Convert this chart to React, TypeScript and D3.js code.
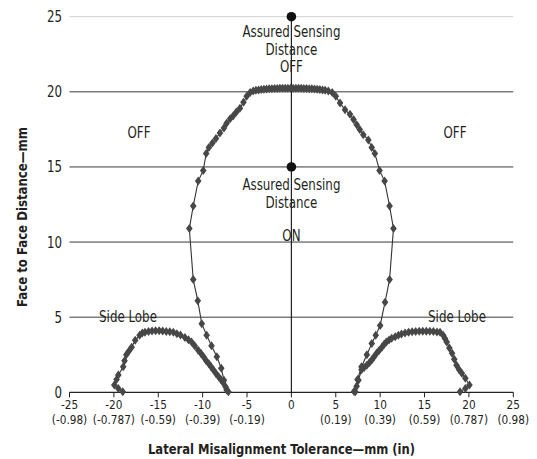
import * as d3 from "d3";

// lateral offset (mm), face distance (mm)
const mainLobe: [number, number][] = [
  [-7.3, 0.15], [-7.6, 0.8], [-7.9, 1.6], [-8.4, 2.36], [-9.0, 3.1], [-9.55, 3.8], [-10.1, 4.57],
  [-10.55, 6.1], [-11.06, 7.5], [-11.5, 10.9], [-11.06, 12.4], [-10.5, 14.06], [-9.93, 14.77],
  [-9.6, 15.9], [-9.3, 16.3], [-8.9, 16.6], [-8.5, 16.9], [-8.05, 17.26], [-7.6, 17.6], [-7.3, 17.9],
  [-6.9, 18.2], [-6.55, 18.4], [-6.2, 18.65], [-5.8, 18.9], [-5.4, 19.3], [-5.04, 19.7], [-4.65, 19.95],
  [-4.3, 20.05], [-4.0, 20.1], [-3.7, 20.12], [-3.4, 20.15], [-3.1, 20.17], [-2.8, 20.18], [-2.5, 20.2],
  [-2.2, 20.2], [-1.9, 20.22], [-1.6, 20.22], [-1.3, 20.23], [-1.0, 20.23], [-0.7, 20.24], [-0.4, 20.24],
  [-0.1, 20.24], [0.2, 20.24], [0.5, 20.24], [0.8, 20.23], [1.1, 20.23], [1.4, 20.22], [1.7, 20.22],
  [2.0, 20.2], [2.3, 20.2], [2.6, 20.18], [2.9, 20.17], [3.2, 20.15], [3.5, 20.12], [3.8, 20.1],
  [4.16, 20.05], [4.6, 19.95], [5.0, 19.7], [5.48, 19.25], [6.04, 18.8], [6.6, 18.5], [7.0, 18.15],
  [7.36, 17.8], [7.7, 17.5], [8.1, 17.15], [8.67, 16.8], [9.05, 16.3], [9.4, 15.9], [9.93, 14.77],
  [10.5, 14.06], [11.06, 12.4], [11.5, 10.9], [11.06, 7.5], [10.55, 6.0], [10.0, 4.45], [9.5, 3.8],
  [9.05, 3.24], [8.5, 2.5], [7.9, 1.7], [7.45, 0.85], [7.06, 0.05],
];

const leftSideLobe: [number, number][] = [
  [-19.0, 0.04], [-19.5, 0.25], [-19.95, 0.48], [-19.7, 0.85], [-19.5, 1.15], [-18.95, 1.7],
  [-18.8, 2.1], [-18.6, 2.5], [-18.3, 2.75], [-18.0, 3.0], [-17.6, 3.46], [-17.1, 3.8], [-16.8, 3.95],
  [-16.5, 4.0], [-16.1, 4.05], [-15.7, 4.08], [-15.3, 4.1], [-14.9, 4.1], [-14.5, 4.08], [-14.1, 4.05],
  [-13.7, 4.03], [-13.3, 4.0], [-12.9, 3.9], [-12.5, 3.82], [-12.0, 3.65], [-11.6, 3.5], [-11.25, 3.35],
  [-10.9, 3.1], [-10.5, 2.8], [-10.2, 2.6], [-9.9, 2.36], [-9.6, 2.1], [-9.3, 1.9], [-9.05, 1.7],
  [-8.8, 1.5], [-8.5, 1.25], [-8.2, 1.03], [-7.95, 0.85], [-7.7, 0.65], [-7.4, 0.35], [-7.1, 0.04],
];

const rightSideLobe: [number, number][] = [
  [7.2, 0.04], [7.35, 0.4], [7.55, 0.8], [7.9, 1.5], [8.2, 1.65], [8.5, 1.8], [8.8, 1.98],
  [9.05, 2.15], [9.3, 2.35], [9.6, 2.6], [9.9, 2.8], [10.2, 3.0], [10.45, 3.2], [10.7, 3.35],
  [11.0, 3.48], [11.3, 3.6], [11.7, 3.7], [12.05, 3.8], [12.4, 3.88], [12.8, 3.95], [13.2, 4.0],
  [13.6, 4.03], [14.0, 4.05], [14.4, 4.06], [14.8, 4.07], [15.2, 4.07], [15.6, 4.06], [16.0, 4.04],
  [16.4, 4.02], [16.75, 4.0], [17.1, 3.8], [17.3, 3.58], [17.5, 3.35], [17.8, 2.95], [18.1, 2.6],
  [18.35, 2.2], [18.6, 1.8], [18.9, 1.5], [19.2, 1.26], [19.6, 0.93], [20.06, 0.48], [19.6, 0.26],
  [19.0, 0.04],
];

const xTicks = [-25, -20, -15, -10, -5, 0, 5, 10, 15, 20, 25];
const xTickInches = ["(-0.98)", "(-0.787)", "(-0.59)", "(-0.39)", "(-0.19)", "", "(0.19)", "(0.39)", "(0.59)", "(0.787)", "(0.98)"];
const yTicks = [0, 5, 10, 15, 20, 25];
const assuredPoints: [number, number][] = [[0, 25], [0, 15]];

const font = "'DejaVu Sans Condensed', 'Liberation Sans Narrow', sans-serif";
const ink = "#231f20";

// narrow text: DejaVu Condensed squeezed a bit to get close to the original's face
function T({ x, y, s = 0.88, size = 15, anchor = "middle", children }: {
  x: number; y: number; s?: number; size?: number; anchor?: string; children: string | number;
}) {
  return (
    <text transform={`translate(${x},${y}) scale(${s},1)`} textAnchor={anchor} fontSize={size} fill={ink}>
      {children}
    </text>
  );
}

function Diamond({ cx, cy }: { cx: number; cy: number }) {
  return <path d={`M${cx},${cy - 4.5}L${cx + 3.3},${cy}L${cx},${cy + 4.5}L${cx - 3.3},${cy}Z`} fill="#474747" />;
}

export default function App() {
  const x = d3.scaleLinear().domain([-25, 25]).range([69.5, 513.3]);
  const y = d3.scaleLinear().domain([0, 25]).range([392.3, 16.7]);
  const line = d3.line<[number, number]>().x((d) => x(d[0])).y((d) => y(d[1]));
  const series = [mainLobe, leftSideLobe, rightSideLobe];

  return (
    <svg width={537} height={459} style={{ position: "absolute", left: 0, top: 0, background: "#fff" }} fontFamily={font}>
      {yTicks.filter((t) => t > 0).map((t) => (
        <line key={t} x1={x(-25)} x2={x(25)} y1={y(t)} y2={y(t)} stroke={t === 25 ? "#cfcfcf" : "#3a3a3a"} strokeWidth={1} />
      ))}
      <line x1={x(-25)} x2={x(25)} y1={y(0)} y2={y(0)} stroke="#222" strokeWidth={1.2} />
      {xTicks.map((t) => (
        <line key={t} x1={x(t)} x2={x(t)} y1={y(0)} y2={y(0) + 5} stroke="#222" />
      ))}
      <line x1={x(0)} x2={x(0)} y1={y(25)} y2={y(0)} stroke="#222" strokeWidth={1.2} />

      {yTicks.map((t) => (
        <T key={t} x={62} y={y(t) + 5.5} size={16} s={0.82} anchor="end">{t}</T>
      ))}
      {xTicks.map((t, i) => (
        <g key={t}>
          <T x={x(t)} y={409} size={13} s={0.9}>{t}</T>
          <T x={x(t)} y={424} size={13} s={0.9}>{xTickInches[i]}</T>
        </g>
      ))}
      <text x={281.5} y={454} textAnchor="middle" fontSize={14} fontWeight="bold" fill={ink}
        textLength={267} lengthAdjust="spacingAndGlyphs">
        Lateral Misalignment Tolerance—mm (in)
      </text>
      <text transform={`translate(27,217) rotate(-90)`} textAnchor="middle" fontSize={14} fontWeight="bold" fill={ink}
        textLength={180} lengthAdjust="spacingAndGlyphs">
        Face to Face Distance—mm
      </text>

      {series.map((s, i) => (
        <g key={i}>
          <path d={line(s) ?? ""} fill="none" stroke="#333" strokeWidth={1.1} />
          {s.map((d, j) => <Diamond key={j} cx={x(d[0])} cy={y(d[1])} />)}
        </g>
      ))}

      {assuredPoints.map((d, i) => (
        <circle key={i} cx={x(d[0])} cy={y(d[1])} r={4.8} fill="#111" />
      ))}

      <T x={x(0)} y={37}>Assured Sensing</T>
      <T x={x(0)} y={55}>Distance</T>
      <T x={x(0)} y={72}>OFF</T>
      <T x={x(0)} y={190}>Assured Sensing</T>
      <T x={x(0)} y={208}>Distance</T>
      <T x={x(0)} y={241}>ON</T>
      <T x={139} y={138}>OFF</T>
      <T x={455} y={138}>OFF</T>
      <T x={128} y={322}>Side Lobe</T>
      <T x={457} y={322}>Side Lobe</T>
    </svg>
  );
}
